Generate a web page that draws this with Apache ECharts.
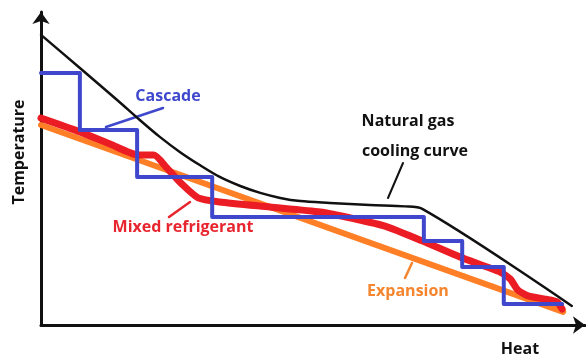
<!DOCTYPE html>
<html>
<head>
<meta charset="utf-8">
<script src="https://cdn.jsdelivr.net/npm/echarts@6/dist/echarts.min.js"></script>
<style>
  html, body { margin: 0; padding: 0; background: #fff; }
  #chart { width: 586px; height: 359px; }
</style>
</head>
<body>
<div id="chart"></div>
<script>
// Heat (x) and temperature (y) in relative units, 0-100 scale.
const naturalGasCurve = [
  [0, 92.7], [7.2, 82.1], [14.1, 71.9], [18.3, 65.5], [22.0, 60.1],
  [25.7, 55.3], [29.4, 51.1], [33.1, 47.3], [36.9, 44.4], [40.6, 42.2],
  [44.3, 40.6], [48.0, 39.6], [53.5, 39.0], [60.9, 38.3], [67.4, 37.9],
  [70.6, 37.1], [98.3, 6.1]
];

// Cascade: each stage holds a constant temperature (drawn as steps).
const cascadeStages = [
  [0, 80.5], [7.2, 62.3], [17.8, 47.3], [31.7, 34.5],
  [70.9, 26.8], [78.0, 18.5], [85.7, 6.7], [96.5, 6.7]
];

const mixedRefrigerant = [
  [0, 66.1], [7.2, 61.7], [12.8, 57.8], [18.0, 54.3], [20.9, 54.3],
  [23.3, 50.2], [26.1, 45.0], [29.1, 40.6], [33.1, 39.3], [42.4, 37.7],
  [51.7, 36.1], [58.1, 33.9], [63.7, 31.6], [70.7, 26.8], [77.6, 21.7],
  [85.0, 16.9], [86.9, 14.7], [88.3, 11.2], [90.2, 9.3], [94.3, 8.0],
  [95.6, 7.3], [96.5, 5.1]
];

const expansion = [[0, 63.9], [96.7, 4.2]];

const axisNames = { x: 'Heat', y: 'Temperature' };

const COLORS = {
  gas: '#111111',
  cascade: '#3f48cc',
  mixed: '#ec1c24',
  expansion: '#ff7f27'
};

const FONT = '"Open Sans", "Noto Sans", sans-serif';

function lineSeries(name, data, color, width, extra) {
  return Object.assign({
    name: name,
    type: 'line',
    data: data,
    showSymbol: false,
    symbol: 'none',
    silent: true,
    lineStyle: { color: color, width: width, cap: 'round', join: 'round' }
  }, extra || {});
}

function label(text, x, y, color, extra) {
  return Object.assign({
    type: 'text',
    x: x, y: y,
    style: {
      text: text,
      fill: color,
      font: 'bold 16px ' + FONT,
      align: 'center',
      verticalAlign: 'middle'
    }
  }, extra || {});
}

function leader(x1, y1, x2, y2, color, width) {
  return {
    type: 'line',
    shape: { x1: x1, y1: y1, x2: x2, y2: y2 },
    style: { stroke: color, lineWidth: width, lineCap: 'round' }
  };
}

const chart = echarts.init(document.getElementById('chart'), null, { renderer: 'canvas' });

const hiddenAxisParts = {
  axisTick: { show: false },
  axisLabel: { show: false },
  splitLine: { show: false }
};

function arrowAxisLine() {
  return {
    show: true,
    onZero: false,
    symbol: ['none', 'arrow'],
    symbolSize: [13, 12],
    lineStyle: { color: '#111', width: 3 }
  };
}

chart.setOption({
  animation: false,
  backgroundColor: '#ffffff',
  grid: { left: 41, right: 1, top: 12, bottom: 34 },
  xAxis: Object.assign({
    type: 'value', min: 0, max: 100.74, axisLine: arrowAxisLine()
  }, hiddenAxisParts),
  yAxis: Object.assign({
    type: 'value', min: 0, max: 100, axisLine: arrowAxisLine()
  }, hiddenAxisParts),
  series: [
    lineSeries('Expansion', expansion, COLORS.expansion, 6, { z: 2 }),
    lineSeries('Mixed refrigerant', mixedRefrigerant, COLORS.mixed, 7, { z: 3, smooth: 0.2 }),
    lineSeries('Cascade', cascadeStages, COLORS.cascade, 4, { z: 4, step: 'end' }),
    lineSeries('Natural gas cooling curve', naturalGasCurve, COLORS.gas, 2.5, { z: 5, smooth: 0.3 })
  ],
  graphic: [
    label(axisNames.y, 19, 152, '#111', { rotation: Math.PI / 2 }),
    label(axisNames.x, 520, 349, '#111'),
    label('Cascade', 168, 96, COLORS.cascade),
    leader(163, 108, 106, 127, COLORS.cascade, 2.5),
    label('Natural gas', 408, 121, '#111'),
    label('cooling curve', 415, 151, '#111'),
    leader(403, 163, 388, 198, '#111', 2),
    label('Mixed refrigerant', 183, 227, '#e8252e'),
    leader(190, 202, 169, 217, '#e8252e', 2.5),
    label('Expansion', 408, 291, '#f5852e'),
    leader(412, 263, 405, 278, '#f5852e', 2.5)
  ]
});
</script>
</body>
</html>
